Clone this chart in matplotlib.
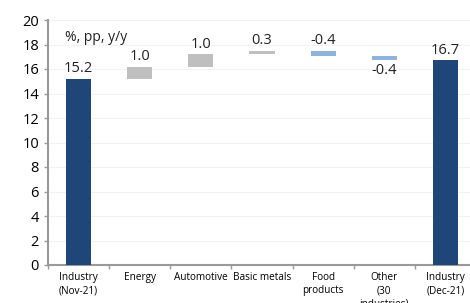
import numpy as np
import matplotlib
matplotlib.use("Agg")
import matplotlib.pyplot as plt

categories = ["Industry\n(Nov-21)", "Energy", "Automotive", "Basic metals",
              "Food\nproducts", "Other\n(30\nindustries)", "Industry\n(Dec-21)"]
start_value = 15.2
end_value = 16.7
contributions = [1.0, 1.0, 0.3, -0.4, -0.4]

y_ticks = list(range(0, 21, 2))

DARK = "#1f4678"
GREY = "#bfbfbf"
LIGHT = "#8db3e2"

plt.rcParams["font.family"] = ["Open Sans", "DejaVu Sans"]

fig = plt.figure(figsize=(4.7, 3.03), dpi=100)
ax = fig.add_axes([48 / 470, 38 / 303, 428 / 470, 245 / 303])

x = np.arange(len(categories))
width = 0.41

# totals
ax.bar([x[0], x[-1]], [start_value, end_value], width=width, color=DARK, zorder=3)

# steps
level = start_value
bottoms, heights, colors = [], [], []
for c in contributions:
    bottoms.append(level if c >= 0 else level + c)
    heights.append(abs(c))
    colors.append(GREY if c >= 0 else LIGHT)
    level += c
ax.bar(x[1:-1], heights, bottom=bottoms, width=width, color=colors, zorder=3)

lab_kw = dict(ha="center", fontsize=10.5, color="#222222", textcoords="offset points")
ax.annotate(f"{start_value:.1f}", (x[0], start_value), xytext=(0, 2), va="bottom", **lab_kw)
ax.annotate(f"{end_value:.1f}", (x[-1], end_value), xytext=(0, 2), va="bottom", **lab_kw)
for i, c in enumerate(contributions):
    top = bottoms[i] + heights[i]
    if i == len(contributions) - 1:
        ax.annotate(f"{c:.1f}", (x[i + 1], bottoms[i]), xytext=(0, -2), va="top", **lab_kw)
    else:
        ax.annotate(f"{c:.1f}", (x[i + 1], top), xytext=(0, 2), va="bottom", **lab_kw)

ax.text(-0.22, 18.6, "%, pp, y/y", fontsize=10, color="#222222", va="center", ha="left")

ax.set_xlim(-0.5, len(categories) - 0.5)
ax.set_ylim(0, 20)
ax.set_yticks(y_ticks)
ax.tick_params(axis="y", labelsize=10.5, length=3, color="#999999", width=1)
ax.set_xticks(x)
ax.set_xticklabels(categories, fontsize=7.2, linespacing=1.3)
ax.set_xticks(np.arange(-0.5, len(categories), 1), minor=True)
ax.tick_params(axis="x", which="major", length=0, pad=5)
ax.tick_params(axis="x", which="minor", length=3, color="#999999", width=1)

ax.grid(axis="y", color="#f2f2f2", linewidth=0.8, zorder=0)
for s in ["top", "right"]:
    ax.spines[s].set_visible(False)
for s in ["left", "bottom"]:
    ax.spines[s].set_color("#999999")
    ax.spines[s].set_linewidth(1.5)

fig.savefig("out.png", dpi=100)
